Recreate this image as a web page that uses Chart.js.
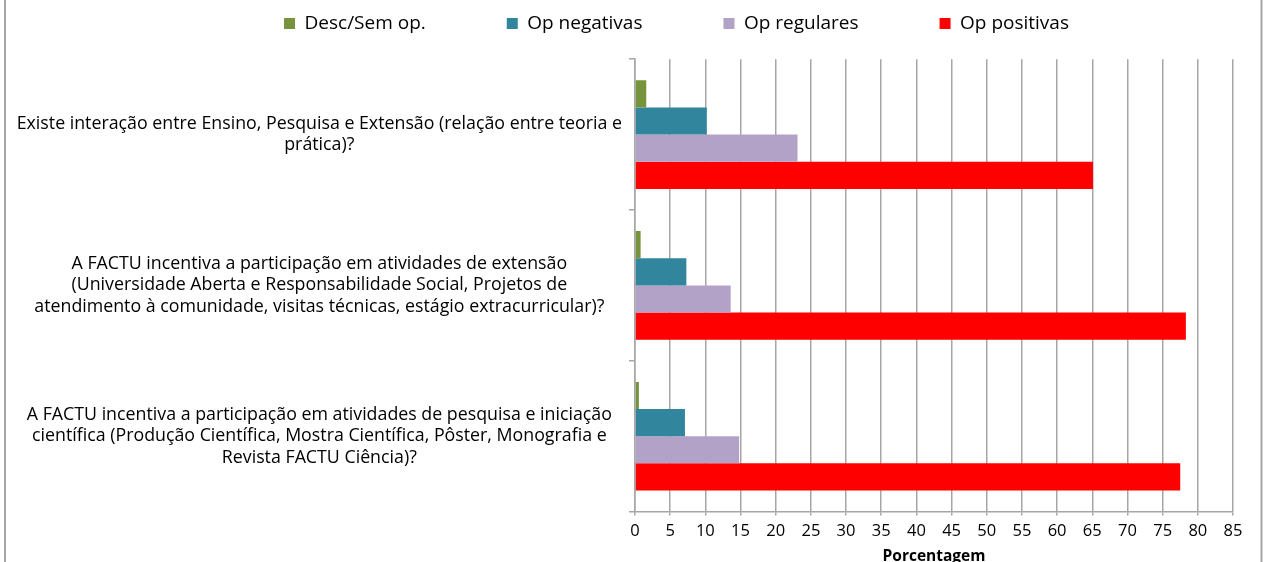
<!DOCTYPE html>
<html>
<head>
<meta charset="utf-8">
<script src="https://cdn.jsdelivr.net/npm/chart.js@4/dist/chart.umd.min.js"></script>
<style>
  html, body { margin: 0; padding: 0; background: #ffffff; }
  #wrap { position: relative; width: 1263px; height: 562px; }
  canvas { display: block; }
</style>
</head>
<body>
<div id="wrap"><canvas id="c" width="1263" height="562"></canvas></div>
<script>
const categories = [
  ["Existe interação entre Ensino, Pesquisa e Extensão (relação entre teoria e", "prática)?"],
  ["A FACTU incentiva a participação em atividades de extensão", "(Universidade Aberta e Responsabilidade Social, Projetos de", "atendimento à comunidade, visitas técnicas, estágio extracurricular)?"],
  ["A FACTU incentiva a participação em atividades de pesquisa e iniciação", "científica (Produção Científica, Mostra Científica, Pôster, Monografia e", "Revista FACTU Ciência)?"]
];
const seriesNames = ["Desc/Sem op.", "Op negativas", "Op regulares", "Op positivas"];
const descSemOp   = [1.6, 0.8, 0.55];
const opNegativas = [10.2, 7.3, 7.1];
const opRegulares = [23.1, 13.6, 14.8];
const opPositivas = [65.1, 78.3, 77.5];
const seriesColors = ["#77933C", "#31859C", "#B3A2C7", "#FF0000"];
const xMin = 0, xMax = 85, xStep = 5;
const xTitle = "Porcentagem";

const FONT = "'Open Sans', 'Noto Sans', sans-serif";
const GRID = "#a6a6a6";

const framePlugin = {
  id: 'frame',
  beforeDraw(chart) {
    const ctx = chart.ctx;
    ctx.save();
    ctx.strokeStyle = GRID;
    ctx.lineWidth = 2;
    ctx.beginPath();
    ctx.moveTo(5, 0); ctx.lineTo(5, chart.height);
    ctx.moveTo(1261.5, 0); ctx.lineTo(1261.5, chart.height);
    ctx.stroke();
    ctx.restore();
  }
};

// shift the legend band so it sits where the original legend is
const legendShift = {
  id: 'legendShift',
  afterLayout(chart) {
    const lg = chart.legend;
    if (lg) { lg.left += 60; lg.right += 60; }
  }
};

const seriesData = [descSemOp, opNegativas, opRegulares, opPositivas];
const datasets = seriesNames.map((name, i) => ({
  label: name,
  data: seriesData[i],
  backgroundColor: seriesColors[i],
  borderWidth: 0,
  categoryPercentage: 0.72,
  barPercentage: 1.0
}));

new Chart(document.getElementById('c'), {
  type: 'bar',
  data: { labels: categories, datasets },
  plugins: [framePlugin, legendShift],
  options: {
    indexAxis: 'y',
    responsive: false,
    animation: false,
    layout: { padding: { top: -67, left: 0, right: 30, bottom: -4 } },
    plugins: {
      tooltip: { enabled: false },
      legend: {
        position: 'top',
        align: 'center',
        labels: {
          boxWidth: 11, boxHeight: 11, padding: 81,
          color: '#000', font: { family: FONT, size: 19 }
        }
      },
      title: {
        display: true, text: '', position: 'top', weight: 500,
        font: { size: 1 }, padding: { top: 0, bottom: 15 }
      }
    },
    scales: {
      x: {
        min: xMin, max: xMax,
        ticks: { stepSize: xStep, color: '#000', font: { family: FONT, size: 16.5 }, padding: 6 },
        grid: { color: GRID, lineWidth: 1.5, tickLength: 4, drawTicks: true },
        border: { color: GRID, width: 1.5 },
        title: { display: true, text: xTitle, color: '#000', font: { family: FONT, size: 15.5, weight: 'bold' }, padding: { top: 0, bottom: 0 } }
      },
      y: {
        ticks: { crossAlign: 'center', color: '#000', font: { family: FONT, size: 17.8, lineHeight: 1.21 }, padding: 7 },
        grid: { drawOnChartArea: false, drawTicks: true, tickLength: 6, color: GRID, lineWidth: 1.5, offset: true },
        border: { color: GRID, width: 1.5 },
        afterFit(s) { s.width = 635; }
      }
    }
  }
});
</script>
</body>
</html>
